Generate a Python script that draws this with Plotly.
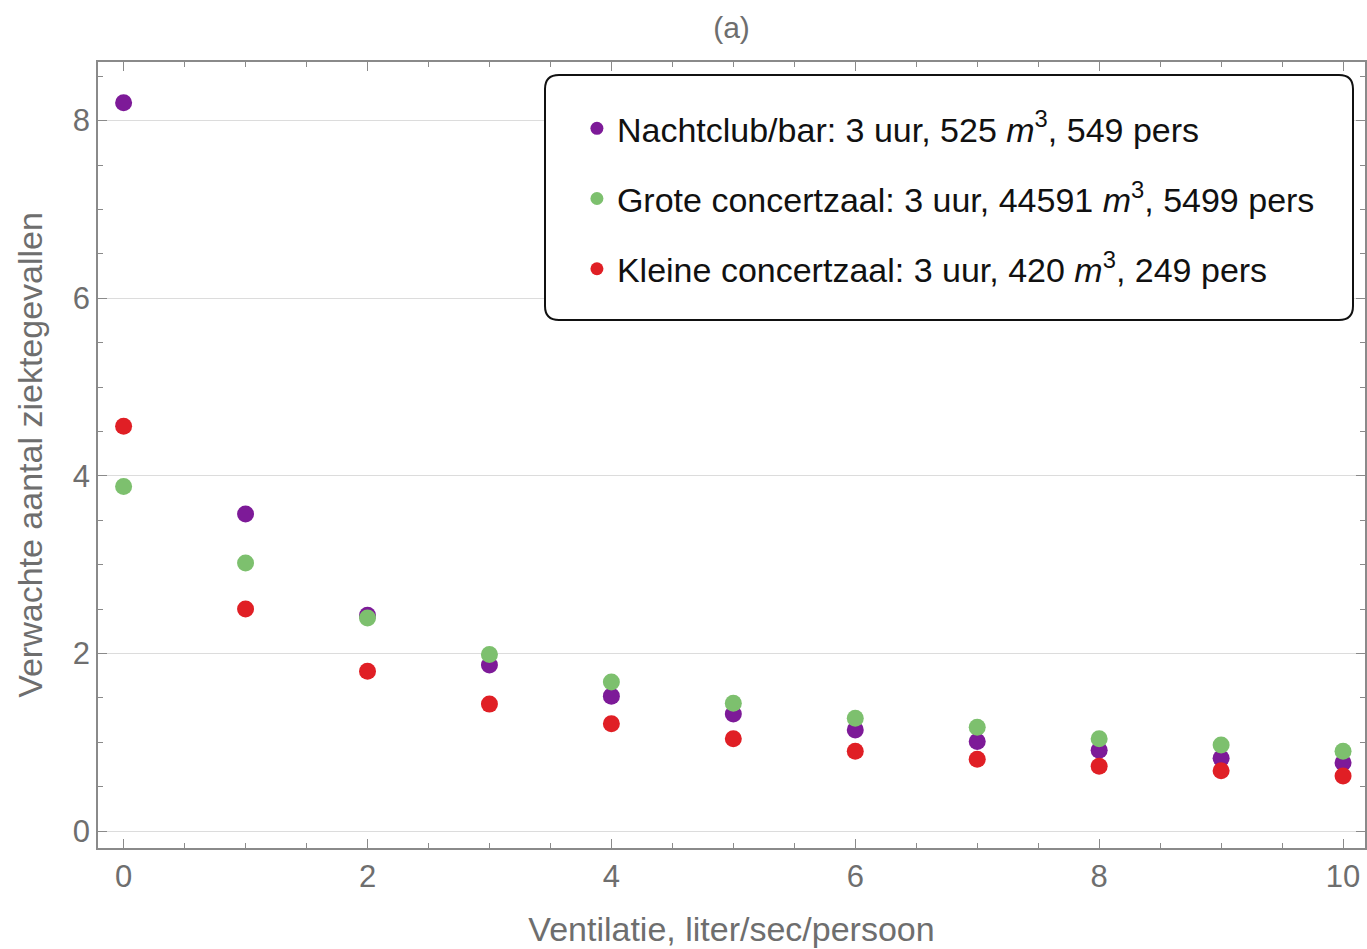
import plotly.graph_objects as go

ventilatie = [0, 1, 2, 3, 4, 5, 6, 7, 8, 9, 10]
nachtclub = [8.20, 3.57, 2.43, 1.87, 1.52, 1.32, 1.14, 1.01, 0.91, 0.82, 0.77]
grote_zaal = [3.88, 3.02, 2.40, 1.99, 1.68, 1.44, 1.27, 1.17, 1.04, 0.97, 0.90]
kleine_zaal = [4.56, 2.50, 1.80, 1.43, 1.21, 1.04, 0.90, 0.81, 0.73, 0.68, 0.62]

names = [
    "Nachtclub/bar: 3 uur, 525 <i>m</i><sup>3</sup>, 549 pers",
    "Grote concertzaal: 3 uur, 44591 <i>m</i><sup>3</sup>, 5499 pers",
    "Kleine concertzaal: 3 uur, 420 <i>m</i><sup>3</sup>, 249 pers",
]
colors = ["#7d1a98", "#7dc06e", "#e01f25"]
series = [nachtclub, grote_zaal, kleine_zaal]

fig = go.Figure()
for i, (ys, c, n) in enumerate(zip(series, colors, names)):
    fig.add_trace(go.Scatter(x=ventilatie, y=ys, mode="markers",
                             marker=dict(color=c, size=17, line=dict(width=0)),
                             showlegend=False, hoverinfo="x+y"))
# legend-only traces with smaller markers
for i, (c, n) in enumerate(zip(colors, names)):
    fig.add_trace(go.Scatter(x=[None], y=[None], mode="markers", name=n,
                             marker=dict(color=c, size=13),
                             legendgroup=f"g{i}", showlegend=True))

gray = "#6e6e6e"
font_fam = "Liberation Sans"
axcommon = dict(showline=True, linecolor="#8a8a8a", linewidth=1.5, mirror="allticks",
                ticks="inside", ticklen=9, tickwidth=1.2, tickcolor="#8a8a8a",
                tickfont=dict(size=31, color=gray, family=font_fam),
                zeroline=False)

fig.update_xaxes(range=[-0.21, 10.18], tickvals=[0, 2, 4, 6, 8, 10], showgrid=False,
                 minor=dict(ticks="inside", ticklen=5, dtick=0.5, tick0=0, tickcolor="#8a8a8a", showgrid=False),
                 title=dict(text="Ventilatie, liter/sec/persoon", font=dict(size=34, color=gray, family=font_fam), standoff=24),
                 **axcommon)
fig.update_yaxes(range=[-0.19, 8.66], tickvals=[0, 2, 4, 6, 8], showgrid=True, gridcolor="#dcdcdc", gridwidth=1,
                 minor=dict(ticks="inside", ticklen=5, dtick=0.5, tick0=0, tickcolor="#8a8a8a", showgrid=False),
                 title=dict(text="Verwachte aantal ziektegevallen", font=dict(size=34, color=gray, family=font_fam), standoff=20),
                 **axcommon)

fig.update_layout(
    width=1367, height=949,
    margin=dict(l=98, r=2, t=62, b=101, autoexpand=False),
    plot_bgcolor="white", paper_bgcolor="white",
    title=dict(text="(a)", x=(98 + 1267 * 0.5) / 1367, xanchor="center", y=1 - 27 / 949, yanchor="middle",
               font=dict(size=30, color=gray, family=font_fam)),
    legend=dict(x=0.378, y=0.952, xanchor="left", yanchor="top", bgcolor="rgba(0,0,0,0)",
                borderwidth=0, font=dict(size=34, color="#111111", family=font_fam),
                tracegroupgap=23, itemsizing="trace"),
    showlegend=True,
)

# rounded legend frame (paper coords)
x0, x1 = (545 - 98) / 1267, (1353 - 98) / 1267
y1, y0 = (848 - 75) / 786, (848 - 320) / 786
r = 14
rx, ry = r / 1267, r / 786
path = (f"M {x0+rx},{y1} L {x1-rx},{y1} Q {x1},{y1} {x1},{y1-ry} "
        f"L {x1},{y0+ry} Q {x1},{y0} {x1-rx},{y0} L {x0+rx},{y0} Q {x0},{y0} {x0},{y0+ry} "
        f"L {x0},{y1-ry} Q {x0},{y1} {x0+rx},{y1} Z")
fig.add_shape(type="path", path=path, xref="paper", yref="paper",
              line=dict(color="#111111", width=2), fillcolor="white", layer="above")

fig.write_html("out.html", config={"displayModeBar": False},
               post_script="document.body.style.margin='0';document.body.style.overflow='hidden';")
